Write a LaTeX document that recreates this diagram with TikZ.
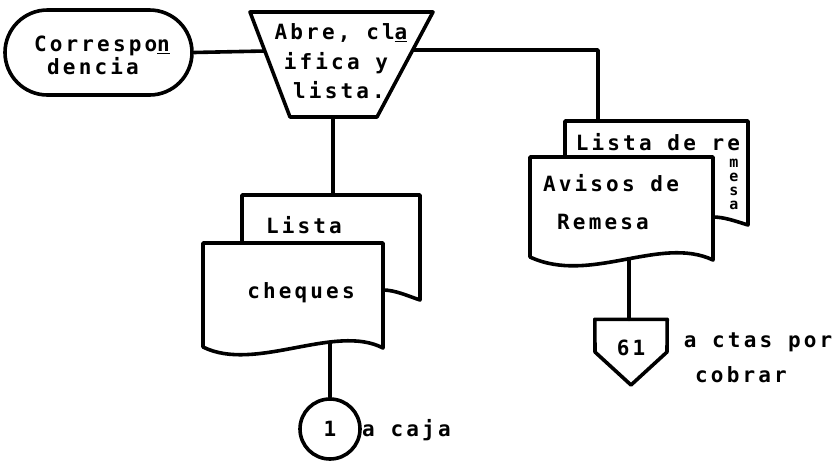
\documentclass[tikz,border=0pt]{standalone}
\usepackage{fontspec}
\usetikzlibrary{shapes.misc}
\newfontfamily\tw[LetterSpace=15, BoldFont={DejaVu Sans Mono Bold}]{DejaVu Sans Mono}
\begin{document}
\begin{tikzpicture}[x=1pt,y=-1pt,
  shp/.style={line width=3.6pt, line join=round, line cap=round},
  docfill/.style={shp, fill=white},
  lbl/.style={font=\tw\bfseries\fontsize{21}{28}\selectfont, inner sep=0, anchor=center},
  vlbl/.style={font=\tw\bfseries\fontsize{15}{15}\selectfont, inner sep=0, anchor=center}]
\useasboundingbox (0,0) rectangle (835,464);

% named anchor points
\coordinate (trL) at (265,51);
\coordinate (trR) at (413,50);
\coordinate (trB) at (333,117);
\coordinate (remTop) at (598,121);
\coordinate (chqTop) at (333,195);
\coordinate (avBot) at (629,258);
\coordinate (chBot) at (330,341);

% terminal
\node[shp, draw, rounded rectangle, minimum width=187pt, minimum height=85pt, inner sep=0] (corr) at (98.5,52.5) {};

% connector shapes
\node[shp, draw, circle, minimum size=60pt, inner sep=0, lbl] (circ) at (330,429) {1};
\node[inner sep=0, minimum width=72pt, minimum height=65pt] (off) at (631,352) {};

% connectors (drawn first, shapes fill over)
\draw[shp] (corr.east) -- (trL);
\draw[shp] (trR) -| (remTop);
\draw[shp] (trB) -- (chqTop);
\draw[shp] (avBot) -- (off.north -| avBot);
\draw[shp] (chBot) -- (circ.north);

% manual operation (trapezoid)
\draw[shp, fill=white] (250,12) -- (433,12) -- (377,117) -- (290,117) -- cycle;

% back document: Lista de remesa
\draw[docfill] (565,160) -- (565,121) -- (748,121) -- (748,225)
  .. controls (735,221) and (724,217) .. (713,217);
% front document: Avisos de Remesa
\draw[docfill] (530,157) -- (713,157) -- (713,260)
  .. controls (660,235) and (590,285) .. (530,257) -- cycle;

% back document: Lista (cheques)
\draw[docfill] (242,246) -- (242,195) -- (420,195) -- (420,300)
  .. controls (408,296) and (395,290) .. (383,290);
% front document: cheques
\draw[docfill] (203,243) -- (383,243) -- (383,348)
  .. controls (335,323) and (255,373) .. (203,347) -- cycle;

% off-page connector 61
\draw[shp] (off.north west) -- (off.north east) -- (667,352) -- (631,385) -- (595,352) -- cycle;

% texts
\node[lbl] (t1) at (102,46) {Correspo\underline{n}};
\node[lbl] (t2) at (93,66) {dencia};
\node[lbl] (t3) at (341,33) {Abre, cl\underline{a}};
\node[lbl] (t4) at (336,63) {ifica y};
\node[lbl] (t5) at (339,90) {lista.};
\node[lbl] (t6) at (658,142) {Lista de re};
\node[vlbl] (t7a) at (734,163) {m};
\node[vlbl] (t7b) at (734,177) {e};
\node[vlbl] (t7c) at (734,191) {s};
\node[vlbl] (t7d) at (734,205) {a};
\node[lbl] (t8) at (611,183) {Avisos de};
\node[lbl] (t9) at (603,222) {Remesa};
\node[lbl] (t10) at (304,225) {Lista};
\node[lbl] (t11) at (301,293) {cheques};
\node[lbl, anchor=west] (t12) at (362,430) {a caja};
\node[lbl] (t13) at (631,348) {61};
\node[lbl] (t14) at (758,342) {a ctas por};
\node[lbl] (t15) at (741,375) {cobrar};
\end{tikzpicture}
\end{document}
